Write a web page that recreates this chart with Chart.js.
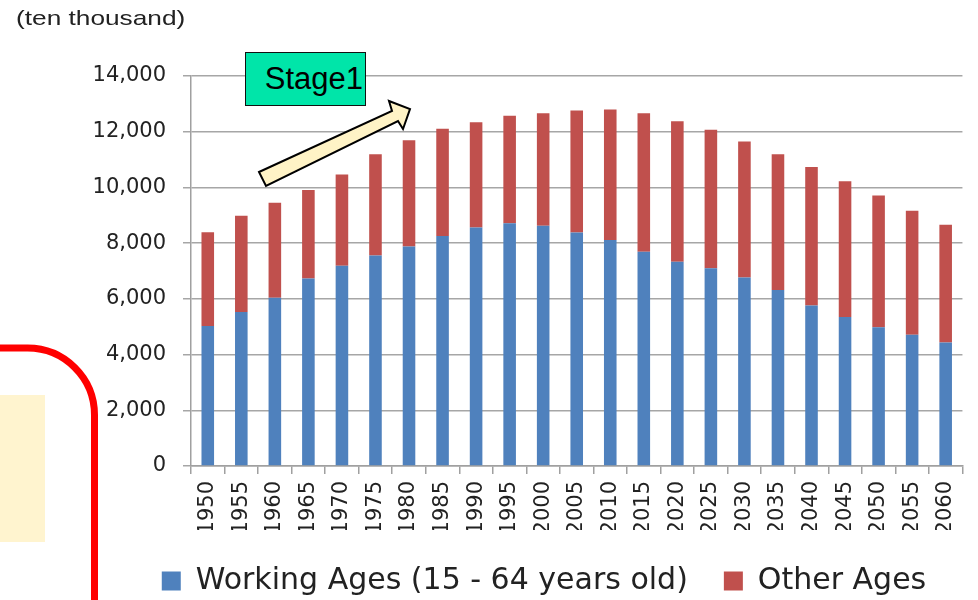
<!DOCTYPE html>
<html>
<head>
<meta charset="utf-8">
<script src="https://cdn.jsdelivr.net/npm/chart.js@4"></script>
<style>
  body { margin: 0; background: #fff; }
  #wrap { position: relative; width: 978px; height: 600px; overflow: hidden; }
  #unit {
    position: absolute; left: 16px; top: 6px;
    font: 21px "Liberation Sans", Arial, sans-serif; color: #222;
    transform: scaleX(1.25); transform-origin: left top; white-space: nowrap;
  }
  #stage {
    position: absolute; left: 245px; top: 52px; width: 121px; height: 54px;
    background: #00e5a9; border: 1.5px solid #111; box-sizing: border-box;
    font: 31px "Liberation Sans", Arial, sans-serif; color: #000;
    text-align: right; line-height: 52px; padding-right: 2px;
  }
  #deco { position: absolute; left: 0; top: 0; }
</style>
</head>
<body>
<div id="wrap">
  <canvas id="popChart"></canvas>
  <svg id="deco" width="978" height="600">
    <!-- cream box and red frame on the left -->
    <rect x="0" y="395" width="45" height="147" fill="#fff4cf"></rect>
    <path d="M -10 348 L 27 348 A 67 67 0 0 1 94.5 415 L 94.5 610" fill="none" stroke="#ff0000" stroke-width="7"></path>
    <!-- stage arrow -->
    <polygon points="259,172 392,111 389,101 410,109 403,129 398,121 266,186" fill="#fff3c6" stroke="#000" stroke-width="2" stroke-linejoin="miter"></polygon>
  </svg>
  <div id="unit">(ten thousand)</div>
  <div id="stage">Stage1</div>
</div>
<script>
// years on the x axis
const years = ['1950', '1955', '1960', '1965', '1970', '1975', '1980', '1985', '1990', '1995', '2000', '2005',
               '2010', '2015', '2020', '2025', '2030', '2035', '2040', '2045', '2050', '2055', '2060'];

// population, ten thousand people
const workingAges = [5030, 5530, 6040, 6730, 7190, 7560, 7880, 8260, 8560, 8710, 8620, 8380,
                     8110, 7690, 7330, 7100, 6770, 6320, 5760, 5350, 4980, 4710, 4430];
const otherAges = [3360, 3450, 3410, 3180, 3270, 3630, 3810, 3850, 3780, 3860, 4040, 4380,
                   4690, 4970, 5050, 4970, 4880, 4870, 4970, 4870, 4730, 4450, 4230];

const seriesNames = ['Working Ages (15 - 64 years old)', 'Other Ages'];
const seriesColors = ['#4f81bd', '#c0504d'];

Chart.defaults.font.family = '"DejaVu Sans", sans-serif';
Chart.defaults.color = '#222';

// legend sits lower and a bit right of the canvas centre in the original
const legendPlace = {
  id: 'legendPlace',
  beforeInit(chart) {
    const origFit = chart.legend.fit;
    chart.legend.fit = function () {
      origFit.call(this);
      this.height -= 6;
    };
  },
  afterLayout(chart) {
    chart.legend.left += 28;
    chart.legend.right += 28;
  }
};

const ctx = document.getElementById('popChart').getContext('2d');
new Chart(ctx, {
  type: 'bar',
  data: {
    labels: years,
    datasets: [
      { label: seriesNames[0], data: workingAges, backgroundColor: seriesColors[0] },
      { label: seriesNames[1], data: otherAges, backgroundColor: seriesColors[1] }
    ]
  },
  options: {
    responsive: true,
    maintainAspectRatio: false,
    animation: false,
    layout: { padding: { left: 60, right: 6, top: 76, bottom: 0 } },
    datasets: { bar: { barPercentage: 0.375, categoryPercentage: 1 } },
    scales: {
      x: {
        stacked: true,
        grid: { drawOnChartArea: false, drawTicks: true, tickLength: 8, color: '#a0a0a0', lineWidth: 1.5 },
        border: { color: '#a0a0a0', width: 1.5 },
        ticks: { minRotation: 90, maxRotation: 90, padding: 7, font: { size: 21 }, color: '#222' },
        afterFit: s => { s.height = 64; }
      },
      y: {
        stacked: true,
        min: 0,
        max: 14000,
        grid: { color: '#a6a6a6', lineWidth: 1.5, tickLength: 8 },
        border: { color: '#a0a0a0', width: 1.5 },
        ticks: {
          stepSize: 2000,
          padding: 17,
          font: { size: 21 },
          color: '#222',
          callback: v => v.toLocaleString('en-US')
        },
        afterFit: s => { s.width = 131; }
      }
    },
    plugins: {
      legend: {
        position: 'bottom',
        labels: { boxWidth: 19, boxHeight: 19, padding: 36, font: { size: 30 }, color: '#222' }
      },
      tooltip: { enabled: false }
    }
  },
  plugins: [legendPlace]
});
</script>
</body>
</html>
